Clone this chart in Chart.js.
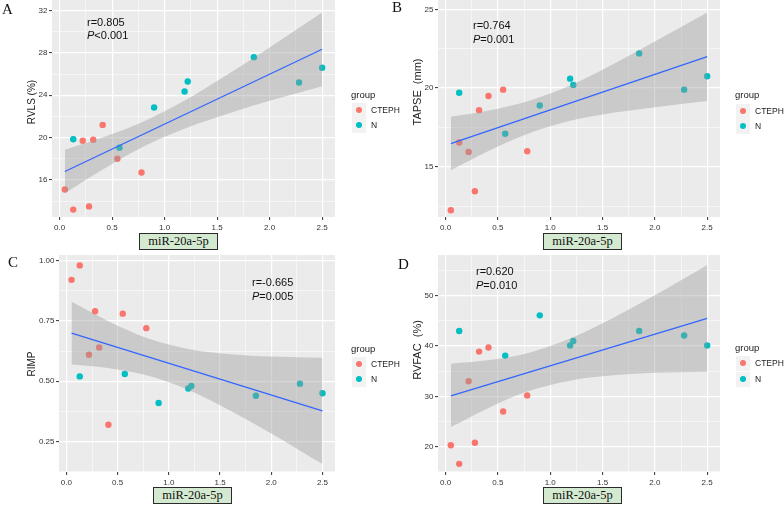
<!DOCTYPE html>
<html>
<head>
<meta charset="utf-8">
<script src="https://cdn.jsdelivr.net/npm/chart.js@4.4.1/dist/chart.umd.min.js"></script>
<style>
  html, body { margin: 0; padding: 0; background: #fff; width: 784px; height: 505px; overflow: hidden; position: relative;
    font-family: "Liberation Sans", Arial, sans-serif; }
  canvas { position: absolute; }
  .t { position: absolute; white-space: nowrap; }
  .letter { font-family: "Liberation Serif", "Times New Roman", serif; font-size: 15px; line-height: 15px; color: #111; }
  .note { font-size: 11px; line-height: 13px; color: #111; transform: translateY(-50%); }
  .ytitle { color: #222; line-height: 12px; transform: translate(-50%, -50%) rotate(-90deg); }
  .mir { position: absolute; width: 79px; height: 17px; box-sizing: border-box; background: #d4ead0; border: 1px solid #2b2b2b;
    font-family: "Liberation Serif", "Times New Roman", serif; font-size: 12.5px; line-height: 15px; text-align: center; color: #111; }
  .lgtitle { font-size: 9.5px; line-height: 11px; color: #222; transform: translateY(-50%); }
  .lgkey { position: absolute; width: 14px; height: 15px; background: #f2f2f2; }
  .lgdot { position: absolute; width: 6px; height: 6px; border-radius: 50%; transform: translate(-50%, -50%); }
  .lgtext { font-size: 8.5px; line-height: 10px; color: #222; transform: translateY(-50%); }
</style>
</head>
<body>
<script>
// shared x values (miR-20a-5p)
const xCTEPH = [0.05, 0.13, 0.22, 0.28, 0.32, 0.41, 0.55, 0.78];
const xN = [0.13, 0.57, 0.90, 1.19, 1.22, 1.85, 2.28, 2.50];

// A: RVLS (%)
const rvlsCTEPH = [15.1, 13.2, 19.7, 13.5, 19.8, 21.2, 18.0, 16.7];
const rvlsN = [19.85, 19.05, 22.85, 24.35, 25.3, 27.6, 25.2, 26.6];
// B: TAPSE (mm)
const tapseCTEPH = [12.25, 16.55, 15.95, 13.45, 18.6, 19.5, 19.9, 16.0];
const tapseN = [19.7, 17.1, 18.9, 20.6, 20.2, 22.2, 19.9, 20.75];
// C: RIMP
const rimpCTEPH = [0.92, 0.98, 0.61, 0.79, 0.64, 0.32, 0.78, 0.72];
const rimpN = [0.52, 0.53, 0.41, 0.47, 0.48, 0.44, 0.49, 0.45];
// D: RVFAC (%)
const rvfacCTEPH = [20.3, 16.6, 33.0, 20.8, 38.9, 39.7, 27.0, 30.2];
const rvfacN = [43.0, 38.1, 46.1, 40.1, 41.0, 43.0, 42.1, 40.1];

// fitted lines (read at both ends)
const fitX = [0.05, 2.5];
const rvlsFit = [16.8, 28.35];
const tapseFit = [16.48, 21.99];
const rimpFit = [0.699, 0.377];
const rvfacFit = [30.1, 45.5];

// confidence bands
const bandX = [0.05, 0.4, 0.8, 1.2, 1.6, 2.0, 2.5];
const rvlsUpper = [18.85, 19.98, 21.52, 23.55, 25.96, 28.52, 31.81];
const rvlsLower = [14.75, 16.92, 19.16, 20.89, 22.26, 23.48, 24.85];
const tapseUpper = [18.18, 18.56, 19.20, 20.20, 21.51, 22.95, 24.80];
const tapseLower = [14.78, 15.98, 17.14, 17.94, 18.43, 18.79, 19.18];
const rimpUpper = [0.829, 0.751, 0.677, 0.633, 0.612, 0.602, 0.597];
const rimpLower = [0.569, 0.555, 0.523, 0.463, 0.378, 0.284, 0.157];
const rvfacUpper = [36.5, 37.17, 38.68, 41.58, 45.58, 50.07, 56.1];
const rvfacLower = [23.9, 27.61, 31.10, 33.18, 34.18, 34.69, 34.9];

// tick labels
const xTicks = [0, 0.5, 1, 1.5, 2, 2.5];
const xTickLabels = ['0.0', '0.5', '1.0', '1.5', '2.0', '2.5'];
const rvlsTicks = [16, 20, 24, 28, 32];
const rvlsTickLabels = ['16', '20', '24', '28', '32'];
const tapseTicks = [15, 20, 25];
const tapseTickLabels = ['15', '20', '25'];
const rimpTicks = [0.25, 0.5, 0.75, 1.0];
const rimpTickLabels = ['0.25', '0.50', '0.75', '1.00'];
const rvfacTicks = [20, 30, 40, 50];
const rvfacTickLabels = ['20', '30', '40', '50'];

const RED = '#F8766D', CYAN = '#00BFC4';

const plotBg = {
  id: 'plotBg',
  beforeDraw(c) {
    const a = c.chartArea;
    c.ctx.save();
    c.ctx.fillStyle = '#ebebeb';
    c.ctx.fillRect(a.left, a.top, a.right - a.left, a.bottom - a.top);
    c.ctx.restore();
  }
};

// majors + ggplot-style minor breaks halfway between
function gridTicks(majors, min, max) {
  const step = majors[1] - majors[0];
  const out = [];
  for (let k = -1; k <= (majors.length - 1) * 2 + 1; k++) {
    const v = +(majors[0] + k * step / 2).toFixed(6);
    if (v >= min && v <= max) out.push({ value: v, isMajor: k % 2 === 0 });
  }
  return out;
}

function axis(pos, range, majors, labels, fitSize) {
  const ticks = gridTicks(majors, range[0], range[1]);
  return {
    type: 'linear', position: pos, min: range[0], max: range[1], bounds: 'data',
    afterBuildTicks: (s) => { s.ticks = ticks.map(t => ({ value: t.value, isMajor: t.isMajor })); },
    afterFit: (s) => { if (pos === 'left') s.width = fitSize; else s.height = fitSize; },
    border: { display: false },
    grid: {
      color: '#ffffff',
      lineWidth: (ctx) => (ctx.tick && ctx.tick.isMajor ? 1.2 : 0.55),
      tickColor: (ctx) => (ctx.tick && ctx.tick.isMajor ? '#333333' : 'rgba(0,0,0,0)'),
      tickLength: 3,
      tickWidth: 1
    },
    ticks: {
      autoSkip: false, maxRotation: 0, padding: pos === 'left' ? 1.5 : 3,
      color: '#333333',
      font: { family: '"Liberation Sans", Arial, sans-serif', size: 8 },
      callback: (v, i, arr) => {
        if (!arr[i].isMajor) return '';
        const j = majors.findIndex(m => Math.abs(m - v) < 1e-6);
        return j >= 0 ? labels[j] : '';
      }
    }
  };
}

function panel(rect, yRange, yTicks, yLabels, red, cyan, fit, upper, lower) {
  const padL = 40, padT = 15, padR = 20, padB = 30;
  const cv = document.createElement('canvas');
  cv.width = rect.r - rect.l + padL + padR;
  cv.height = rect.b - rect.t + padT + padB;
  cv.style.left = (rect.l - padL) + 'px';
  cv.style.top = (rect.t - padT) + 'px';
  document.body.appendChild(cv);
  new Chart(cv, {
    type: 'line',
    data: {
      datasets: [
        { data: xCTEPH.map((x, i) => ({ x, y: red[i] })), showLine: false, pointRadius: 3.2,
          pointBackgroundColor: RED, pointBorderWidth: 0, order: 2 },
        { data: xN.map((x, i) => ({ x, y: cyan[i] })), showLine: false, pointRadius: 3.2,
          pointBackgroundColor: CYAN, pointBorderWidth: 0, order: 2 },
        { data: bandX.map((x, i) => ({ x, y: lower[i] })), borderColor: 'rgba(0,0,0,0)', borderWidth: 0,
          pointRadius: 0, fill: false, cubicInterpolationMode: 'monotone', order: 1 },
        { data: bandX.map((x, i) => ({ x, y: upper[i] })), borderColor: 'rgba(0,0,0,0)', borderWidth: 0,
          pointRadius: 0, fill: '-1', backgroundColor: 'rgba(153,153,153,0.4)', cubicInterpolationMode: 'monotone', order: 1 },
        { data: fitX.map((x, i) => ({ x, y: fit[i] })), borderColor: '#3366FF', borderWidth: 1.3,
          pointRadius: 0, fill: false, order: 0 }
      ]
    },
    options: {
      responsive: false, animation: false, devicePixelRatio: 1,
      layout: { padding: { left: 0, top: padT, right: padR, bottom: 0 } },
      plugins: { legend: { display: false }, tooltip: { enabled: false } },
      scales: {
        x: axis('bottom', [-0.0725, 2.6225], xTicks, xTickLabels, padB),
        y: axis('left', yRange, yTicks, yLabels, padL)
      }
    },
    plugins: [plotBg]
  });
}

panel({ l: 52, t: 0, r: 335, b: 217 }, [12.5, 33.0], rvlsTicks, rvlsTickLabels, rvlsCTEPH, rvlsN, rvlsFit, rvlsUpper, rvlsLower);
panel({ l: 438, t: 0, r: 720, b: 217 }, [11.82, 25.59], tapseTicks, tapseTickLabels, tapseCTEPH, tapseN, tapseFit, tapseUpper, tapseLower);
panel({ l: 59, t: 255, r: 335, b: 472 }, [0.124, 1.023], rimpTicks, rimpTickLabels, rimpCTEPH, rimpN, rimpFit, rimpUpper, rimpLower);
panel({ l: 438, t: 255, r: 720, b: 472 }, [14.98, 58.09], rvfacTicks, rvfacTickLabels, rvfacCTEPH, rvfacN, rvfacFit, rvfacUpper, rvfacLower);

// text overlays
function put(cls, html, x, y, style) {
  const d = document.createElement('div');
  d.className = 't ' + cls;
  d.innerHTML = html;
  d.style.left = x + 'px';
  d.style.top = y + 'px';
  if (style) d.style.cssText += style;
  document.body.appendChild(d);
  return d;
}

put('letter', 'A', 2, 2);
put('letter', 'B', 392, 0);
put('letter', 'C', 8, 255);
put('letter', 'D', 398, 257);

put('note', 'r=0.805', 87, 21.5);
put('note', '<i>P</i>&lt;0.001', 87, 35);
put('note', 'r=0.764', 473, 25);
put('note', '<i>P</i>=0.001', 473, 39);
put('note', 'r=-0.665', 252, 281.5);
put('note', '<i>P</i>=0.005', 252, 295.5);
put('note', 'r=0.620', 476, 271);
put('note', '<i>P</i>=0.010', 476, 284.5);

put('ytitle', 'RVLS (%)', 32, 102, 'font-size:10px;');
put('ytitle', 'TAPSE&nbsp;&nbsp;(mm)', 417, 92, 'font-size:11px;');
put('ytitle', 'RIMP', 32, 364, 'font-size:10px;');
put('ytitle', 'RVFAC&nbsp;&nbsp;(%)', 417, 350, 'font-size:11px;');

function mirBox(x, y) {
  const d = document.createElement('div');
  d.className = 'mir';
  d.textContent = 'miR-20a-5p';
  d.style.left = x + 'px';
  d.style.top = y + 'px';
  document.body.appendChild(d);
}
mirBox(139, 233);
mirBox(543, 233);
mirBox(153, 487);
mirBox(543, 487);

function legend(x, yTitle, y1, y2) {
  put('lgtitle', 'group', x, yTitle);
  [[y1, RED, 'CTEPH'], [y2, CYAN, 'N']].forEach(([y, col, name]) => {
    const k = document.createElement('div');
    k.className = 'lgkey';
    k.style.left = (x + 0.5) + 'px';
    k.style.top = (y - 7.5) + 'px';
    document.body.appendChild(k);
    const dot = document.createElement('div');
    dot.className = 'lgdot';
    dot.style.left = (x + 7.5) + 'px';
    dot.style.top = y + 'px';
    dot.style.background = col;
    document.body.appendChild(dot);
    put('lgtext', name, x + 20, y);
  });
}
legend(351, 93.5, 110, 125);
legend(735, 94.3, 111, 126);
legend(351, 347.5, 364, 379);
legend(735, 347.3, 363.3, 379.3);
</script>
</body>
</html>
